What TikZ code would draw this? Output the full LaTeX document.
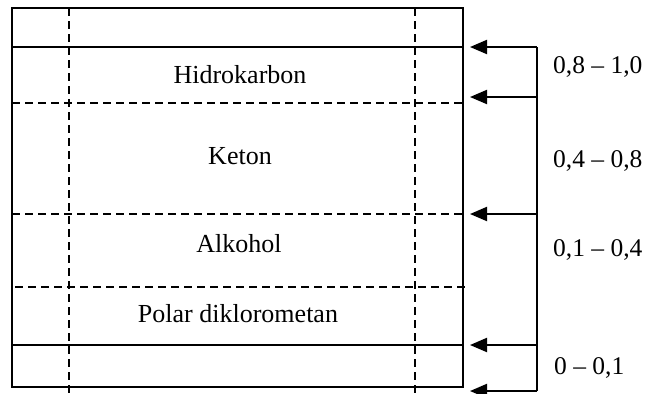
\documentclass[tikz,border=0pt]{standalone}
\usepackage{fontspec}
\setmainfont{Liberation Serif}
\usetikzlibrary{arrows.meta}
\begin{document}
\begin{tikzpicture}[x=1pt,y=-1pt,
  solidline/.style={line width=1.9pt},
  dashline/.style={line width=1.6pt,dash pattern=on 8pt off 5pt},
  arr/.style={line width=1.9pt,-{Triangle[length=17pt,width=14pt]}},
  lbl/.style={inner sep=0pt,anchor=base,font=\fontsize{26}{30}\selectfont},
  rng/.style={inner sep=0pt,anchor=base west,font=\fontsize{25.5}{30}\selectfont}]
\useasboundingbox (0,0) rectangle (649,394);
% box
\draw[solidline] (12,8) rectangle (463,387);
\draw[solidline] (12,47) -- (463,47);
\draw[solidline] (12,345) -- (463,345);
\draw[dashline] (12,103) -- (463,103);
\draw[dashline] (12,214) -- (463,214);
\draw[dashline] (15,287) -- (468,287);
\draw[dashline] (69,8) -- (69,394);
\draw[dashline] (415,8) -- (415,394);
% labels
\node[lbl] (hid) at (240,83) {Hidrokarbon};
\node[lbl] (ket) at (240,164) {Keton};
\node[lbl] (alk) at (239,252) {Alkohol};
\node[lbl] (pol) at (238,322) {Polar diklorometan};
% arrows
\coordinate (s1) at (537,47);  \coordinate (t1) at (470,47);
\coordinate (s2) at (537,97);  \coordinate (t2) at (470,97);
\coordinate (s3) at (537,214); \coordinate (t3) at (470,214);
\coordinate (s4) at (537,345); \coordinate (t4) at (470,345);
\coordinate (s5) at (537,391); \coordinate (t5) at (470,391);
\draw[solidline] (s1) -- (s5);
\draw[arr] (s1) -- (t1);
\draw[arr] (s2) -- (t2);
\draw[arr] (s3) -- (t3);
\draw[arr] (s4) -- (t4);
\draw[arr] (s5) -- (t5);
% ranges
\node[rng] (r1) at (553,73) {0,8 – 1,0};
\node[rng] (r2) at (553,167) {0,4 – 0,8};
\node[rng] (r3) at (553,256) {0,1 – 0,4};
\node[rng] (r4) at (554,374) {0 – 0,1};
\end{tikzpicture}
\end{document}
